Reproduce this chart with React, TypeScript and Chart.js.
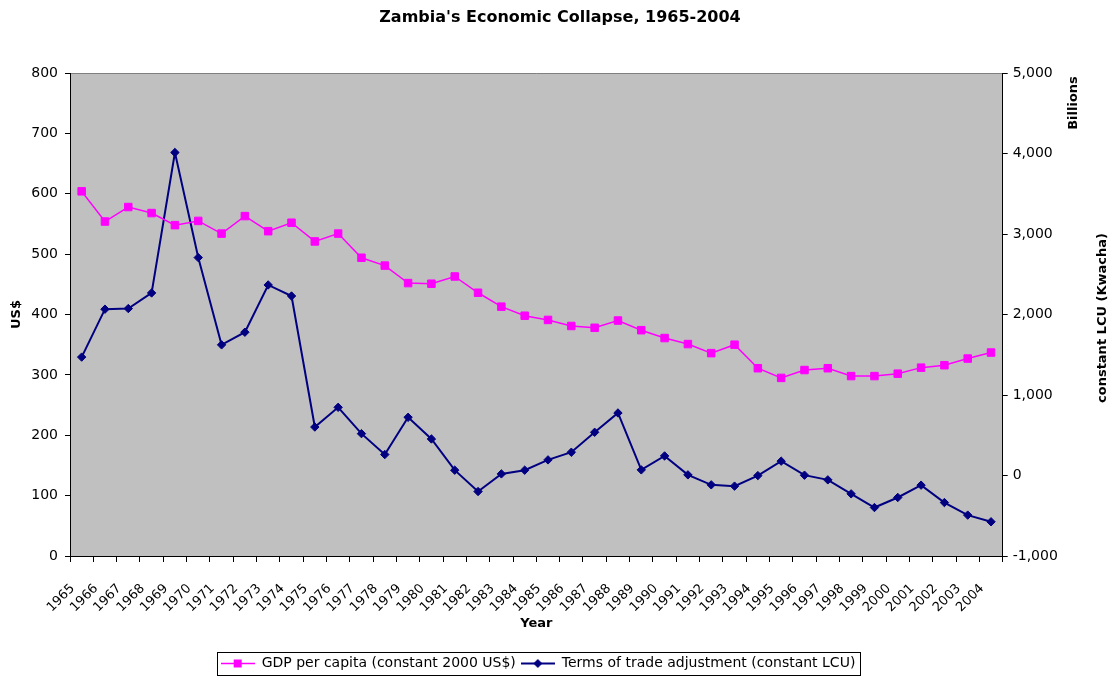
import React, { useEffect, useRef } from 'react';
import { Chart, registerables } from 'chart.js';

Chart.register(...registerables);

const years = [
  '1965', '1966', '1967', '1968', '1969', '1970', '1971', '1972', '1973', '1974',
  '1975', '1976', '1977', '1978', '1979', '1980', '1981', '1982', '1983', '1984',
  '1985', '1986', '1987', '1988', '1989', '1990', '1991', '1992', '1993', '1994',
  '1995', '1996', '1997', '1998', '1999', '2000', '2001', '2002', '2003', '2004',
];

// GDP per capita (constant 2000 US$)
const gdpPerCapita = [
  604, 554, 578, 568, 548, 555, 534, 563, 538, 552,
  521, 534, 494, 481, 452, 451, 463, 436, 413, 398,
  391, 381, 378, 390, 374, 361, 351, 336, 350, 311,
  295, 308, 311, 298, 298, 302, 312, 316, 327, 337,
];

// Terms of trade adjustment (constant LCU), billions
const termsOfTrade = [
  1471, 2066, 2074, 2268, 4012, 2707, 1623, 1780, 2367, 2230,
  602, 847, 520, 260, 723, 454, 66, -199, 20, 66,
  194, 289, 537, 777, 70, 243, 8, -116, -132, -1,
  178, 4, -54, -228, -398, -273, -120, -336, -492, -575,
];

const seriesNames = ['GDP per capita (constant 2000 US$)', 'Terms of trade adjustment (constant LCU)'];
const chartTitle = "Zambia's Economic Collapse, 1965-2004";
const xTitle = 'Year';
const leftTitle = 'US$';
const rightTitle = 'constant LCU (Kwacha)';
const rightUnits = 'Billions';
const leftRange = { min: 0, max: 800, step: 100 };
const rightRange = { min: -1000, max: 5000, step: 1000 };

const FONT = '"DejaVu Sans", Arial, sans-serif';
const PINK = '#FF00FF';
const NAVY = '#000080';

function makeSample(color: string, kind: 'rect' | 'diamond', lw: number) {
  const c = document.createElement('canvas');
  c.width = 34;
  c.height = 13;
  const g = c.getContext('2d')!;
  g.strokeStyle = color;
  g.fillStyle = color;
  g.lineWidth = lw;
  g.beginPath();
  g.moveTo(0, 6.5);
  g.lineTo(34, 6.5);
  g.stroke();
  g.beginPath();
  if (kind === 'rect') {
    g.rect(13, 2.5, 8, 8);
  } else {
    g.moveTo(17, 2);
    g.lineTo(21.5, 6.5);
    g.lineTo(17, 11);
    g.lineTo(12.5, 6.5);
    g.closePath();
  }
  g.fill();
  return c;
}

const plotBg = {
  id: 'plotBg',
  afterLayout(chart: any) {
    const lg = chart.legend;
    if (lg) {
      lg.left -= 18;
      lg.right -= 18;
    }
    const tb = chart.titleBlock;
    if (tb) {
      tb.left += 4;
      tb.right += 4;
    }
  },
  beforeDraw(chart: any) {
    const { ctx, chartArea } = chart;
    const { left, top, right, bottom } = chartArea;
    ctx.save();
    ctx.fillStyle = '#C0C0C0';
    ctx.fillRect(left, top, right - left, bottom - top);
    ctx.strokeStyle = '#808080';
    ctx.lineWidth = 1;
    ctx.beginPath();
    ctx.moveTo(left, Math.round(top) + 0.5);
    ctx.lineTo(right, Math.round(top) + 0.5);
    ctx.stroke();
    ctx.restore();
  },
};

const extras = {
  id: 'extras',
  afterDraw(chart: any) {
    const { ctx } = chart;
    ctx.save();
    // legend border
    const hb = chart.legend && chart.legend.legendHitBoxes;
    if (hb && hb.length) {
      const l = Math.min(...hb.map((h: any) => h.left)) - 4;
      const r = Math.max(...hb.map((h: any) => h.left + h.width)) + 4;
      const t = hb[0].top - 4.5;
      const b = hb[0].top + hb[0].height + 4.5;
      ctx.strokeStyle = '#000';
      ctx.lineWidth = 1;
      ctx.strokeRect(Math.round(l) + 0.5, Math.round(t) + 0.5, Math.round(r - l), Math.round(b - t));
    }
    // right axis titles
    ctx.fillStyle = '#000';
    ctx.font = `bold 13px ${FONT}`;
    ctx.textAlign = 'center';
    ctx.textBaseline = 'middle';
    ctx.translate(1074, 103);
    ctx.rotate(-Math.PI / 2);
    ctx.fillText(rightUnits, 0, 0);
    ctx.setTransform(1, 0, 0, 1, 0, 0);
    ctx.translate(1103, 318);
    ctx.rotate(-Math.PI / 2);
    ctx.fillText(rightTitle, 0, 0);
    ctx.restore();
  },
};

export default function App() {
  const ref = useRef<HTMLCanvasElement | null>(null);

  useEffect(() => {
    if (!ref.current) return;
    Chart.defaults.color = '#000';
    Chart.defaults.font.family = FONT;
    const samples = [makeSample(PINK, 'rect', 1.5), makeSample(NAVY, 'diamond', 2)];
    const chart = new Chart(ref.current, {
      type: 'line',
      data: {
        labels: years,
        datasets: [
          {
            label: seriesNames[0],
            data: gdpPerCapita,
            yAxisID: 'y',
            borderColor: PINK,
            backgroundColor: PINK,
            borderWidth: 1.5,
            pointStyle: 'rect',
            pointRadius: 5.3,
            pointBorderWidth: 1,
            pointBackgroundColor: PINK,
            pointBorderColor: PINK,
            tension: 0,
          },
          {
            label: seriesNames[1],
            data: termsOfTrade,
            yAxisID: 'y1',
            borderColor: NAVY,
            backgroundColor: NAVY,
            borderWidth: 2,
            pointStyle: 'rectRot',
            pointRadius: 4.2,
            pointBorderWidth: 1,
            pointBackgroundColor: NAVY,
            pointBorderColor: NAVY,
            tension: 0,
          },
        ],
      },
      options: {
        responsive: false,
        animation: false,
        devicePixelRatio: 1,
        events: [],
        layout: { padding: { left: 0, right: 0, top: 0, bottom: -4.5 } },
        plugins: {
          tooltip: { enabled: false },
          title: {
            display: true,
            text: chartTitle,
            color: '#000',
            font: { size: 16, weight: 'bold', family: FONT },
            padding: { top: 8, bottom: 45.8 },
          },
          legend: {
            position: 'bottom',
            labels: {
              usePointStyle: true,
              pointStyleWidth: 34,
              boxHeight: 13,
              padding: 5,
              color: '#000',
              font: { size: 14, family: FONT },
              generateLabels: (c: any) =>
                (Chart.defaults.plugins.legend.labels as any)
                  .generateLabels(c)
                  .map((l: any, i: number) => ({ ...l, pointStyle: samples[i] })),
            },
          },
        },
        scales: {
          x: {
            type: 'category',
            offset: true,
            grid: { offset: true, drawOnChartArea: false, drawTicks: true, tickLength: 6, color: '#000' },
            border: { color: '#000', width: 1 },
            ticks: {
              minRotation: 45,
              maxRotation: 45,
              autoSkip: false,
              padding: 19,
              labelOffset: -9,
              color: '#000',
              font: { size: 13, family: FONT },
            },
            title: {
              display: true,
              text: xTitle,
              color: '#000',
              font: { size: 13, weight: 'bold', family: FONT },
              padding: { top: 0, bottom: 20 },
            },
            afterFit: (s: any) => {
              s.height = 95.5;
            },
          },
          y: {
            position: 'left',
            min: leftRange.min,
            max: leftRange.max,
            grid: { drawOnChartArea: false, tickLength: 5, color: '#000' },
            border: { color: '#000', width: 1 },
            ticks: { stepSize: leftRange.step, padding: 7, color: '#000', font: { size: 14, family: FONT } },
            title: {
              display: true,
              text: leftTitle,
              color: '#000',
              font: { size: 13, weight: 'bold', family: FONT },
              padding: { top: 9.2, bottom: 0 },
            },
            afterFit: (s: any) => {
              s.width = 70;
            },
          },
          y1: {
            position: 'right',
            min: rightRange.min,
            max: rightRange.max,
            grid: { drawOnChartArea: false, tickLength: 5, color: '#000' },
            border: { color: '#000', width: 1 },
            ticks: {
              stepSize: rightRange.step,
              padding: 5,
              color: '#000',
              font: { size: 14, family: FONT },
              callback: (v: any) => Number(v).toLocaleString('en-US'),
            },
            afterFit: (s: any) => {
              s.width = 109.3;
            },
          },
        },
      } as any,
      plugins: [plotBg, extras],
    });
    return () => chart.destroy();
  }, []);

  return (
    <div style={{ position: 'fixed', left: 0, top: 0, width: 1112, height: 676, background: '#fff' }}>
      <canvas ref={ref} width={1112} height={676} style={{ width: 1112, height: 676, display: 'block' }} />
    </div>
  );
}
